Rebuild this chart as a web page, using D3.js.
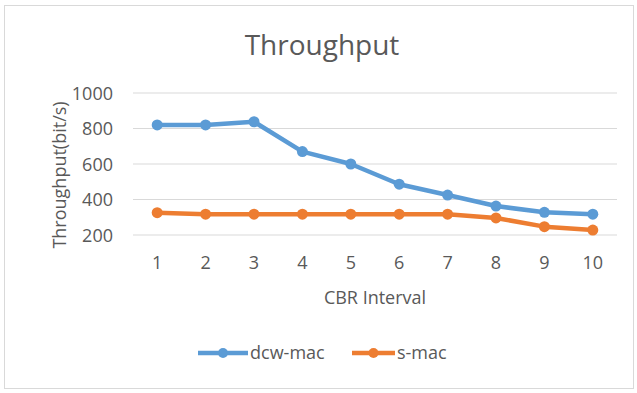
<!DOCTYPE html>
<html><head><meta charset="utf-8">
<script src="https://cdn.jsdelivr.net/npm/d3@7"></script>
<style>body{margin:0;background:#fff}svg{display:block}text{font-family:"Open Sans",sans-serif;fill:#595959}</style>
</head><body><svg id="c" width="637" height="393"></svg>
<script>
const categories = ["1","2","3","4","5","6","7","8","9","10"];
const dcwMac = [820, 820, 838, 670, 600, 486, 425, 363, 328, 317];
const sMac = [326, 317, 317, 317, 317, 317, 317, 296, 247, 228];
const yTicks = [200, 400, 600, 800, 1000];
const seriesNames = ["dcw-mac", "s-mac"];
const colors = ["#5b9bd5", "#ed7d31"];

const svg = d3.select("#c");
svg.append("rect").attr("x",4.5).attr("y",5.5).attr("width",629).attr("height",383)
  .attr("fill","#fff").attr("stroke","#d9d9d9");

const L=133, R=617, T=93, B=235;
const x = d3.scaleBand().domain(categories).range([L,R]);
const y = d3.scaleLinear().domain([200,1000]).range([B,T]);
const FS = "18px";

svg.append("g").selectAll("line").data(yTicks).join("line")
  .attr("x1",L).attr("x2",R).attr("y1",d=>y(d)).attr("y2",d=>y(d))
  .attr("stroke","#d9d9d9").attr("stroke-width",1);

const ya = svg.append("g").attr("transform",`translate(${L},0)`)
  .call(d3.axisLeft(y).tickValues(yTicks).tickFormat(d3.format("d")).tickSize(0).tickPadding(20));
ya.select(".domain").remove();
ya.selectAll("text").style("font-size",FS).attr("fill","#595959").style("font-family","Open Sans").attr("dy","0.35em");

const xa = svg.append("g").attr("transform",`translate(0,${B})`)
  .call(d3.axisBottom(x).tickSize(0).tickPadding(21));
xa.select(".domain").remove();
xa.selectAll("text").style("font-size",FS).attr("fill","#595959").style("font-family","Open Sans");

svg.append("text").attr("x",322).attr("y",55).attr("text-anchor","middle")
  .style("font-size","28px").text("Throughput");
svg.append("text").attr("transform",`translate(66,${(T+B)/2+11}) rotate(-90)`)
  .attr("text-anchor","middle").style("font-size",FS).text("Throughput(bit/s)");
svg.append("text").attr("x",(L+R)/2).attr("y",304).attr("text-anchor","middle")
  .style("font-size",FS).text("CBR Interval");

const data = [dcwMac, sMac];
const line = d3.line().x((d,i)=>x(categories[i])+x.bandwidth()/2).y(d=>y(d));
data.forEach((s,k)=>{
  svg.append("path").attr("d",line(s)).attr("fill","none").attr("stroke",colors[k])
    .attr("stroke-width",4.5).attr("stroke-linejoin","round");
  svg.append("g").selectAll("circle").data(s).join("circle")
    .attr("cx",(d,i)=>x(categories[i])+x.bandwidth()/2).attr("cy",d=>y(d)).attr("r",5.5)
    .attr("fill",colors[k]);
});

const leg = [{x1:198,x2:248,tx:250},{x1:352,x2:395,tx:397}];
leg.forEach((l,k)=>{
  const ly=353;
  svg.append("line").attr("x1",l.x1).attr("x2",l.x2).attr("y1",ly).attr("y2",ly)
    .attr("stroke",colors[k]).attr("stroke-width",4.5);
  svg.append("circle").attr("cx",(l.x1+l.x2)/2).attr("cy",ly).attr("r",5).attr("fill",colors[k]);
  svg.append("text").attr("x",l.tx).attr("y",ly+6).style("font-size",FS).text(seriesNames[k]);
});
</script></body></html>
